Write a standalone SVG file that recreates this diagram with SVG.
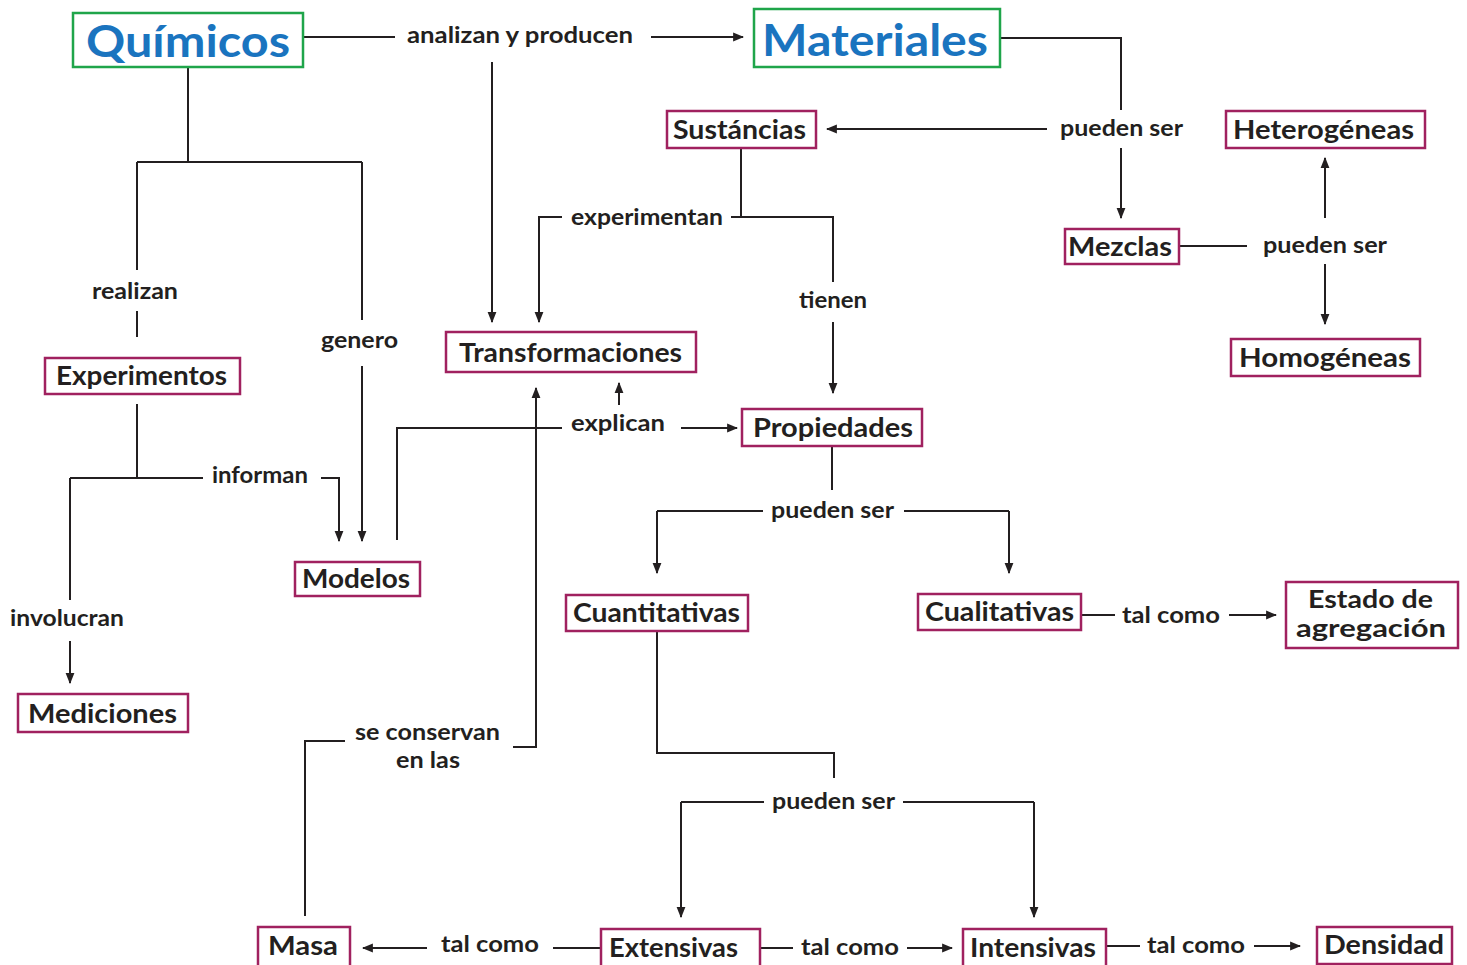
<svg xmlns="http://www.w3.org/2000/svg" width="1467" height="965" viewBox="0 0 1467 965">
<style>
.bg{fill:#fff}
.g{fill:#fff;stroke:#1fa54a;stroke-width:2.5}
.m{fill:#fff;stroke:#a0215f;stroke-width:2.5}
.t{font-family:"Lato","Liberation Sans",sans-serif;font-weight:700;fill:#231f20}
.big{font-size:44px;fill:#1a74bf}
.n{font-size:26px}
.n2{font-size:24px}
.l{font-size:22px}
.c path{fill:none;stroke:#231f20;stroke-width:2}
.c .a{marker-end:url(#ah)}
</style>
<defs>
<marker id="ah" viewBox="0 0 10 10" refX="9" refY="5" markerWidth="11" markerHeight="11" markerUnits="userSpaceOnUse" orient="auto">
<path d="M0,1 L10,5 L0,9 Z" fill="#231f20"/>
</marker>
</defs>
<rect class="bg" x="0" y="0" width="1467" height="965"/>

<g class="c" id="connectors">
<path d="M303,37 H395"/>
<path class="a" d="M651,37 H743"/>
<path class="a" d="M492,62 V322"/>
<path d="M188,67 V162 M137,162 H362 M137,162 V270 M137,311 V337 M362,162 V320"/>
<path class="a" d="M362,366 V541"/>
<path d="M137,404 V478 M70,478 H203 M70,478 V600"/>
<path class="a" d="M70,641 V683"/>
<path class="a" d="M321,478 H339 V541"/>
<path d="M397,540 V428 H562"/>
<path class="a" d="M681,428 H737"/>
<path class="a" d="M619,405 V383"/>
<path d="M1000,38 H1121 V110"/>
<path class="a" d="M1121,148 V218"/>
<path class="a" d="M1047,129 H827"/>
<path d="M741,148 V217 M731,217 H833 V282"/>
<path class="a" d="M833,322 V393"/>
<path class="a" d="M562,217 H539 V322"/>
<path d="M1179,246 H1247"/>
<path class="a" d="M1325,218 V158"/>
<path class="a" d="M1325,264 V324"/>
<path d="M832,446 V490 M657,511 H763 M904,511 H1009"/>
<path class="a" d="M657,511 V573"/>
<path class="a" d="M1009,511 V573"/>
<path d="M1081,615 H1115"/>
<path class="a" d="M1229,615 H1276"/>
<path d="M657,631 V753 H834 V778 M681,802 H764 M903,802 H1034"/>
<path class="a" d="M681,802 V917"/>
<path class="a" d="M1034,802 V917"/>
<path d="M553,948 H601"/>
<path class="a" d="M427,948 H363"/>
<path d="M760,948 H793"/>
<path class="a" d="M907,948 H952"/>
<path d="M1106,946 H1140"/>
<path class="a" d="M1254,946 H1300"/>
<path d="M305,916 V741 H345"/>
<path class="a" d="M513,747 H536 V388"/>
</g>

<g id="quimicos"><rect class="g" x="73" y="13" width="230" height="54"/><text class="t big" x="86" y="57" textLength="204" lengthAdjust="spacingAndGlyphs">Químicos</text></g>
<g id="materiales"><rect class="g" x="754" y="9" width="246" height="58"/><text class="t big" x="762" y="56" textLength="226" lengthAdjust="spacingAndGlyphs">Materiales</text></g>
<g id="sustancias"><rect class="m" x="667" y="111" width="149" height="37"/><text class="t n" x="673" y="139" textLength="133" lengthAdjust="spacingAndGlyphs">Sustáncias</text></g>
<g id="heterogeneas"><rect class="m" x="1226" y="111" width="199" height="37"/><text class="t n" x="1233" y="139" textLength="181" lengthAdjust="spacingAndGlyphs">Heterogéneas</text></g>
<g id="mezclas"><rect class="m" x="1065" y="229" width="114" height="35"/><text class="t n" x="1068" y="256" textLength="104" lengthAdjust="spacingAndGlyphs">Mezclas</text></g>
<g id="homogeneas"><rect class="m" x="1231" y="339" width="189" height="37"/><text class="t n" x="1239" y="367" textLength="172" lengthAdjust="spacingAndGlyphs">Homogéneas</text></g>
<g id="experimentos"><rect class="m" x="45" y="358" width="195" height="36"/><text class="t n" x="56" y="385" textLength="171" lengthAdjust="spacingAndGlyphs">Experimentos</text></g>
<g id="transformaciones"><rect class="m" x="446" y="332" width="250" height="40"/><text class="t n" x="459" y="362" textLength="223" lengthAdjust="spacingAndGlyphs">Transformaciones</text></g>
<g id="propiedades"><rect class="m" x="742" y="409" width="180" height="37"/><text class="t n" x="753" y="437" textLength="160" lengthAdjust="spacingAndGlyphs">Propiedades</text></g>
<g id="modelos"><rect class="m" x="295" y="562" width="125" height="34"/><text class="t n" x="302" y="588" textLength="108" lengthAdjust="spacingAndGlyphs">Modelos</text></g>
<g id="mediciones"><rect class="m" x="18" y="694" width="170" height="38"/><text class="t n" x="28" y="723" textLength="149" lengthAdjust="spacingAndGlyphs">Mediciones</text></g>
<g id="cuantitativas"><rect class="m" x="566" y="595" width="182" height="36"/><text class="t n" x="573" y="622" textLength="167" lengthAdjust="spacingAndGlyphs">Cuantitativas</text></g>
<g id="cualitativas"><rect class="m" x="918" y="594" width="163" height="36"/><text class="t n" x="925" y="621" textLength="149" lengthAdjust="spacingAndGlyphs">Cualitativas</text></g>
<g id="estado"><rect class="m" x="1286" y="582" width="172" height="66"/><text class="t n2" x="1308" y="608" textLength="125" lengthAdjust="spacingAndGlyphs">Estado de</text><text class="t n2" x="1296" y="637" textLength="150" lengthAdjust="spacingAndGlyphs">agregación</text></g>
<g id="masa"><rect class="m" x="258" y="927" width="92" height="40"/><text class="t n" x="268" y="955" textLength="70" lengthAdjust="spacingAndGlyphs">Masa</text></g>
<g id="extensivas"><rect class="m" x="601" y="929" width="159" height="40"/><text class="t n" x="609" y="957" textLength="129" lengthAdjust="spacingAndGlyphs">Extensivas</text></g>
<g id="intensivas"><rect class="m" x="963" y="929" width="143" height="40"/><text class="t n" x="970" y="957" textLength="126" lengthAdjust="spacingAndGlyphs">Intensivas</text></g>
<g id="densidad"><rect class="m" x="1317" y="927" width="135" height="37"/><text class="t n" x="1324" y="954" textLength="120" lengthAdjust="spacingAndGlyphs">Densidad</text></g>

<g id="labels">
<text class="t l" x="407" y="43" textLength="226" lengthAdjust="spacingAndGlyphs">analizan y producen</text>
<text class="t l" x="1060" y="136" textLength="123" lengthAdjust="spacingAndGlyphs">pueden ser</text>
<text class="t l" x="1263" y="253" textLength="124" lengthAdjust="spacingAndGlyphs">pueden ser</text>
<text class="t l" x="571" y="225" textLength="152" lengthAdjust="spacingAndGlyphs">experimentan</text>
<text class="t l" x="799" y="308" textLength="68" lengthAdjust="spacingAndGlyphs">tienen</text>
<text class="t l" x="92" y="299" textLength="86" lengthAdjust="spacingAndGlyphs">realizan</text>
<text class="t l" x="321" y="348" textLength="77" lengthAdjust="spacingAndGlyphs">genero</text>
<text class="t l" x="571" y="431" textLength="94" lengthAdjust="spacingAndGlyphs">explican</text>
<text class="t l" x="212" y="483" textLength="96" lengthAdjust="spacingAndGlyphs">informan</text>
<text class="t l" x="771" y="518" textLength="123" lengthAdjust="spacingAndGlyphs">pueden ser</text>
<text class="t l" x="10" y="626" textLength="114" lengthAdjust="spacingAndGlyphs">involucran</text>
<text class="t l" x="1122" y="623" textLength="98" lengthAdjust="spacingAndGlyphs">tal como</text>
<text class="t l" x="355" y="740" textLength="145" lengthAdjust="spacingAndGlyphs">se conservan</text>
<text class="t l" x="396" y="768" textLength="64" lengthAdjust="spacingAndGlyphs">en las</text>
<text class="t l" x="772" y="809" textLength="123" lengthAdjust="spacingAndGlyphs">pueden ser</text>
<text class="t l" x="441" y="952" textLength="98" lengthAdjust="spacingAndGlyphs">tal como</text>
<text class="t l" x="801" y="955" textLength="98" lengthAdjust="spacingAndGlyphs">tal como</text>
<text class="t l" x="1147" y="953" textLength="98" lengthAdjust="spacingAndGlyphs">tal como</text>
</g>
</svg>
